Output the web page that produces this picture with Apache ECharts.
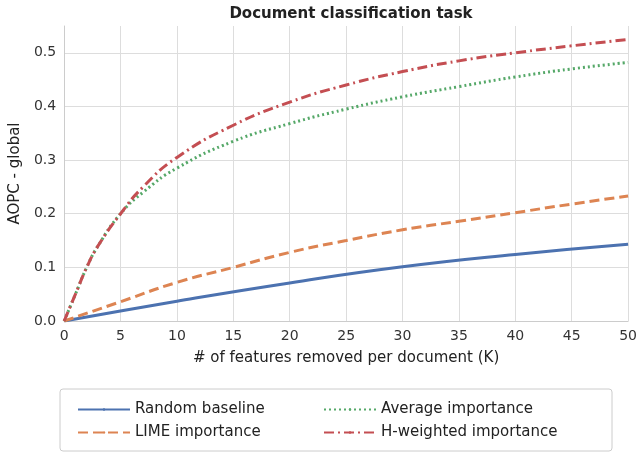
<!DOCTYPE html>
<html><head><meta charset="utf-8">
<script src="https://cdn.jsdelivr.net/npm/echarts@6/dist/echarts.min.js"></script>
<style>html,body{margin:0;padding:0;background:#fff}#c{width:640px;height:454px}</style>
</head><body><div id="c"></div>
<script>
const randomX = [0, 10, 20, 30, 40, 50];
const randomY = [0, 0.037, 0.071, 0.101, 0.124, 0.143];
const limeX = [0, 5, 10, 15, 20, 25, 30, 35, 40, 45, 50];
const limeY = [0, 0.036, 0.072, 0.1, 0.128, 0.15, 0.17, 0.186, 0.202, 0.218, 0.233];
const curveX = [0, 1, 2, 3, 5, 7, 10, 15, 20, 25, 30, 35, 40, 45, 50];
const avgY = [0, 0.05, 0.1, 0.14, 0.2, 0.24, 0.285, 0.335, 0.368, 0.395, 0.418, 0.437, 0.455, 0.47, 0.482];
const hwY = [0, 0.05, 0.1, 0.14, 0.2, 0.25, 0.305, 0.365, 0.408, 0.44, 0.465, 0.485, 0.5, 0.513, 0.525];
const names = ['Random baseline', 'LIME importance', 'Average importance', 'H-weighted importance'];
const colors = ['#4c72b0', '#dd8452', '#55a868', '#c44e52'];
const zip = (xs, ys) => xs.map((x, i) => [x, ys[i]]);
const font = 'DejaVu Sans';
const chart = echarts.init(document.getElementById('c'));
const mk = (i, data, type) => ({
  name: names[i], type: 'line', data, smooth: true, symbol: 'none',
  lineStyle: { color: colors[i], width: 3, type }, itemStyle: { color: colors[i] }
});
const leg = (d, left) => ({ data: d, orient: 'vertical', left, top: 397, itemGap: 8,
  itemWidth: 52, itemHeight: 3, textStyle: { fontSize: 15, color: '#222' } });
chart.setOption({
  animation: false,
  textStyle: { fontFamily: font },
  title: { text: 'Document classification task', left: 346, top: 2, textAlign: 'center',
    textStyle: { fontSize: 15, fontWeight: 'bold', color: '#222', fontFamily: font } },
  grid: { left: 63, right: 10, top: 26, bottom: 133 },
  xAxis: { type: 'value', min: 0, max: 50, interval: 5,
    name: '# of features removed per document (K)', nameLocation: 'middle', nameGap: 30,
    nameTextStyle: { fontSize: 15, color: '#222' },
    axisLine: { lineStyle: { color: '#ccc' } }, axisTick: { show: false },
    axisLabel: { fontSize: 14, color: '#333' },
    splitLine: { lineStyle: { color: '#ddd', width: 1 } } },
  yAxis: { type: 'value', min: 0, max: 0.55, interval: 0.1,
    name: 'AOPC - global', nameLocation: 'middle', nameGap: 40,
    nameTextStyle: { fontSize: 15, color: '#222' },
    axisLine: { show: true, lineStyle: { color: '#ccc' } }, axisTick: { show: false },
    axisLabel: { fontSize: 14, color: '#333', showMaxLabel: false,
      formatter: v => v > 0.52 ? '' : v.toFixed(1) },
    splitLine: { showMaxLine: false, lineStyle: { color: '#ddd', width: 1 } } },
  legend: [leg([names[0], names[1]], 72), leg([names[2], names[3]], 318)],
  graphic: [{ type: 'rect', shape: { x: 60, y: 389, width: 552, height: 62, r: 3 },
    style: { fill: 'none', stroke: '#ccc', lineWidth: 1 } }],
  series: [
    mk(0, zip(randomX, randomY), 'solid'),
    mk(1, zip(limeX, limeY), [10, 5]),
    mk(2, zip(curveX, avgY), [2, 3]),
    mk(3, zip(curveX, hwY), [10, 4, 2, 4])
  ]
});
</script></body></html>
